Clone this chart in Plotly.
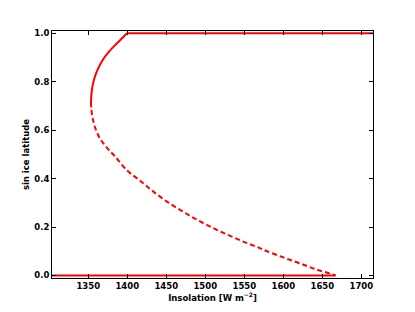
import plotly.graph_objects as go

# Stable upper branch (solid)
upper_Q = [1353.5, 1354.1, 1355.3, 1357.5, 1362.0, 1368.5, 1375.5, 1384.0, 1392.0, 1399.5]
upper_s = [0.716, 0.750, 0.780, 0.810, 0.850, 0.890, 0.920, 0.950, 0.975, 1.000]

# Unstable branch (dashed)
unst_Q = [1353.5, 1353.9, 1355.0, 1357.0, 1360.0, 1364.2, 1369.5, 1376.8, 1384.8, 1399.2,
          1416.2, 1431.2, 1450.4, 1469.6, 1488.8, 1508.0, 1527.2, 1548.5, 1567.7, 1578.4,
          1599.7, 1621.1, 1642.4, 1663.7, 1667.0]
unst_s = [0.716, 0.690, 0.660, 0.630, 0.600, 0.570, 0.545, 0.517, 0.490, 0.435,
          0.392, 0.352, 0.306, 0.267, 0.231, 0.199, 0.170, 0.140, 0.116, 0.101,
          0.075, 0.050, 0.025, 0.004, 0.000]

# Ice-free branch (s = 1) and snowball branch (s = 0)
icefree_Q = [1399.5, 1720.0]
icefree_s = [1.0, 1.0]
snow_Q = [1295.0, 1667.0]
snow_s = [0.0, 0.0]

x_ticks = [1350, 1400, 1450, 1500, 1550, 1600, 1650, 1700]
y_ticks = [0.0, 0.2, 0.4, 0.6, 0.8, 1.0]

red = "#ff0000"
fig = go.Figure()
fig.add_trace(go.Scatter(x=snow_Q, y=snow_s, mode="lines", line=dict(color=red, width=2)))
fig.add_trace(go.Scatter(x=icefree_Q, y=icefree_s, mode="lines", line=dict(color=red, width=2)))
fig.add_trace(go.Scatter(x=upper_Q, y=upper_s, mode="lines",
                         line=dict(color=red, width=2, shape="spline")))
fig.add_trace(go.Scatter(x=unst_Q, y=unst_s, mode="lines",
                         line=dict(color=red, width=2, dash="5px,3px", shape="spline")))

font = dict(family="DejaVu Sans", size=8.5, color="black")
fig.update_layout(
    width=415, height=312,
    margin=dict(l=52, r=42, t=31, b=31),
    paper_bgcolor="white", plot_bgcolor="white",
    showlegend=False,
    font=font,
)
fig.update_xaxes(
    range=[1303.5, 1715], tickvals=x_ticks, ticktext=[f"<b>{v}</b>" for v in x_ticks],
    ticks="inside", ticklen=4, tickcolor="black", mirror="ticks",
    showline=True, linecolor="black", linewidth=1, showgrid=False, zeroline=False,
    title=dict(text="<b>Insolation [W m<sup>−2</sup>]</b>", font=font, standoff=3),
)
fig.update_yaxes(
    range=[-0.0105, 1.0094], tickvals=y_ticks, ticktext=[f"<b>{v:.1f}</b>" for v in y_ticks],
    ticks="inside", ticklen=4, tickcolor="black", mirror="ticks",
    showline=True, linecolor="black", linewidth=1, showgrid=False, zeroline=False,
    title=dict(text="<b>sin ice latitude</b>", font=font, standoff=3),
)
fig.write_html("out.html", config={"displayModeBar": False},
               post_script="document.body.style.margin='0px';")
